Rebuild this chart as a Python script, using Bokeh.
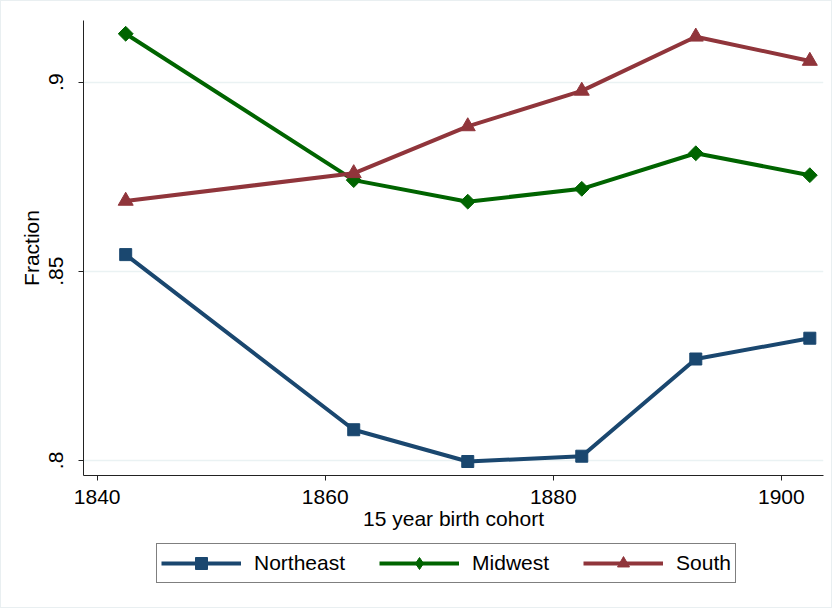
from bokeh.plotting import figure
from bokeh.layouts import column
from bokeh.models import Legend, LegendItem, FixedTicker, Range1d
from bokeh.embed import file_html
from bokeh.resources import INLINE

# 15 year birth cohort midpoints
cohort = [1842.5, 1862.5, 1872.5, 1882.5, 1892.5, 1902.5]
northeast = [0.8544, 0.8081, 0.7997, 0.8011, 0.8268, 0.8323]
midwest = [0.9128, 0.8741, 0.8684, 0.8718, 0.8812, 0.8754]
south = [0.8686, 0.8759, 0.8883, 0.8977, 0.9120, 0.9056]
regions = ["Northeast", "Midwest", "South"]

x_ticks = [1840, 1860, 1880, 1900]
y_ticks = [0.8, 0.85, 0.9]
y_tick_labels = {0.8: ".8", 0.85: ".85", 0.9: ".9"}

FONT = "Liberation Sans"
navy = "#1a476f"
green = "#006400"
maroon = "#90353b"

p = figure(width=830, height=540, output_backend="svg", toolbar_location=None,
           x_range=Range1d(1838.8, 1903.7), y_range=Range1d(0.796, 0.9163),
           min_border_left=82, min_border_top=19, min_border_right=8,
           min_border_bottom=66)
p.background_fill_color = "white"
p.border_fill_color = "white"
p.outline_line_color = None

p.xgrid.grid_line_color = None
p.ygrid.grid_line_color = "#eaf2f3"
p.ygrid.grid_line_width = 1.5

p.xaxis.ticker = FixedTicker(ticks=x_ticks)
p.yaxis.ticker = FixedTicker(ticks=y_ticks)
p.yaxis.major_label_overrides = y_tick_labels
p.yaxis.major_label_orientation = "vertical"
p.xaxis.axis_label = "15 year birth cohort"
p.yaxis.axis_label = "Fraction"
for ax in (p.xaxis, p.yaxis):
    ax.axis_line_color = "#222222"
    ax.major_tick_line_color = "#222222"
    ax.major_tick_in = 0
    ax.major_tick_out = 5
    ax.minor_tick_line_color = None
    ax.major_label_text_font = FONT
    ax.major_label_text_font_size = "21px"
    ax.major_label_text_color = "black"
    ax.axis_label_text_font = FONT
    ax.axis_label_text_font_size = "21px"
    ax.axis_label_text_font_style = "normal"
    ax.axis_label_text_color = "black"
p.xaxis.major_label_standoff = 9
p.xaxis.axis_label_standoff = 0
p.yaxis.major_label_standoff = 15
p.yaxis.axis_label_standoff = 4

# name, values, colour, marker (plot), marker (legend), size, angle
series = [(regions[0], northeast, navy, "square", "square", 12, 0),
          (regions[1], midwest, green, "square", "diamond", 10.5, 0.785398),
          (regions[2], south, maroon, "triangle", "triangle", 15, 0)]

for name, vals, col, mk, _, sz, ang in series:
    p.line(cohort, vals, line_color=col, line_width=4)
    p.scatter(cohort, vals, marker=mk, size=sz, angle=ang, color=col)

# legend lives in its own strip below the chart; its copies of the series
# sit outside that strip's y range so only the legend shows
lg = figure(width=830, height=66, output_backend="svg", toolbar_location=None,
            x_range=p.x_range, y_range=Range1d(5, 6),
            x_axis_location=None, y_axis_location=None,
            min_border_left=0, min_border_right=0, min_border_top=0, min_border_bottom=0)
lg.outline_line_color = None
lg.grid.grid_line_color = None
lg.border_fill_color = "white"
items = []
for name, vals, col, _, lmk, sz, ang in series:
    r1 = lg.line(cohort, vals, line_color=col, line_width=4)
    r2 = lg.scatter(cohort, vals, marker=lmk, size=sz, color=col)
    items.append(LegendItem(label=name, renderers=[r1, r2]))

legend = Legend(items=items, location=(73, 24), orientation="horizontal")
legend.label_text_font = FONT
legend.label_text_font_size = "21px"
legend.label_text_color = "black"
legend.glyph_width = 80
legend.glyph_height = 30
legend.label_standoff = 13
legend.spacing = 34
legend.padding = 4
legend.margin = 0
legend.border_line_color = "black"
legend.border_line_width = 1
legend.background_fill_color = "white"
legend.background_fill_alpha = 1
lg.add_layout(legend, "center")

page = column(p, lg, spacing=0, styles={"border": "1px solid #e9eff1"})
open("out.html", "w").write(file_html(page, INLINE))
